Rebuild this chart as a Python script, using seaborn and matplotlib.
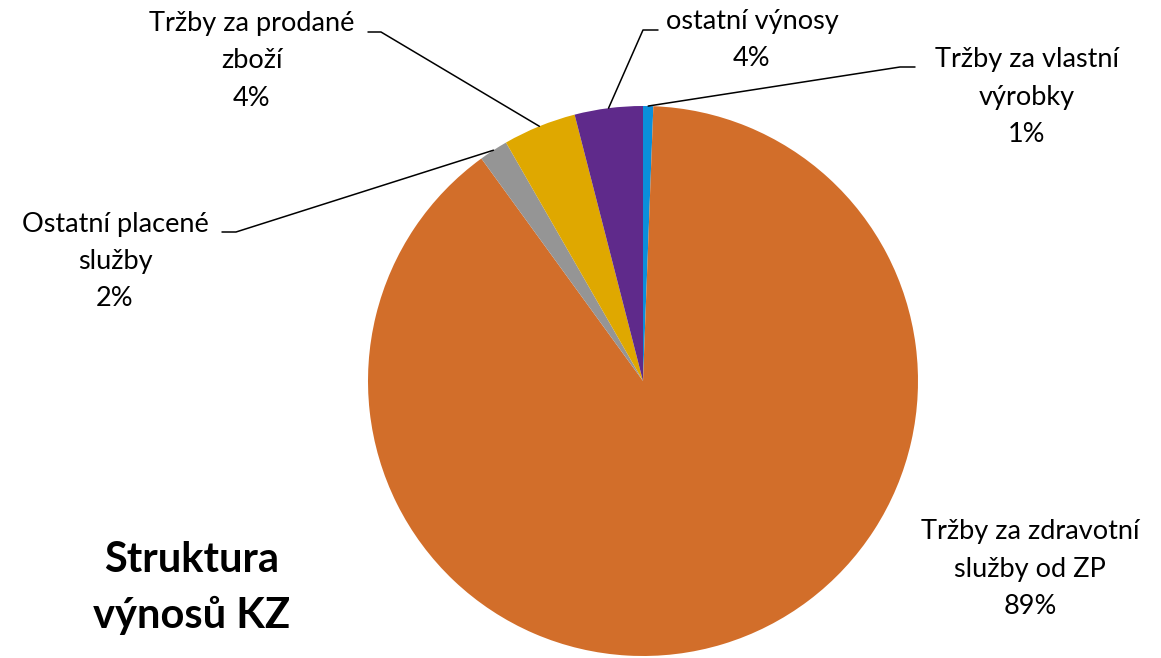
import numpy as np
import matplotlib
matplotlib.use("Agg")
import matplotlib.pyplot as plt
import seaborn as sns

sns.set_theme(style="white")
plt.rcParams['font.family'] = ['Lato', 'DejaVu Sans']

categories = ["Tržby za vlastní\nvýrobky", "Tržby za zdravotní\nslužby od ZP",
              "Ostatní placené\nslužby", "Tržby za prodané\nzboží", "ostatní výnosy"]
values = [0.6, 89.4, 1.7, 4.3, 4.0]
colors = ["#0A8FDB", "#D26E2A", "#959595", "#DFA800", "#5F2A8B"]
title = "Struktura\nvýnosů KZ"

W, H = 1161, 658
fig = plt.figure(figsize=(W / 100, H / 100), dpi=100)
ax = fig.add_axes([0, 0, 1, 1])

cx, cy, R = 643, 381, 275  # pie centre / radius in pixels (layout)
def px(x, y):
    return ((x - cx) / R, (cy - y) / R)

wedges, _ = ax.pie(values, colors=colors, startangle=90, counterclock=False,
                   radius=1, wedgeprops=dict(linewidth=0))
ax.set_xlim(px(0, 0)[0], px(W, 0)[0])
ax.set_ylim(px(0, H)[1], px(0, 0)[1])
ax.set_aspect('equal')
ax.axis('off')

# label layout: (text centre px, line-hook start px, hook end px) ; None -> no leader
layout = [
    ((1027, 97), (915, 67), (900, 67)),
    ((1030, 569), None, None),
    ((115, 262), (222, 232), (236, 232)),
    ((252, 61), (368, 32), (381, 32)),
    ((752, 40), (658, 30), (643, 30)),
]

total = sum(values)
for w, lab, v, (tpos, h0, h1) in zip(wedges, categories, values, layout):
    txt = f"{lab}\n{v / total * 100:.0f}%"
    tx, ty = px(*tpos)
    ax.text(tx, ty, txt, ha='center', va='center', fontsize=19.5, color='black',
            linespacing=1.6)
    if h0 is not None:
        ang = np.deg2rad((w.theta1 + w.theta2) / 2)
        ex, ey = np.cos(ang), np.sin(ang)
        a = px(*h0); b = px(*h1)
        ax.plot([a[0], b[0], ex], [a[1], b[1], ey], color='black', lw=1.1,
                clip_on=False)

tx, ty = px(192, 588)
ax.text(tx, ty, title, ha='center', va='center', fontsize=30, fontweight='bold',
        color='black', linespacing=1.5)

fig.savefig("out.png", dpi=100)
